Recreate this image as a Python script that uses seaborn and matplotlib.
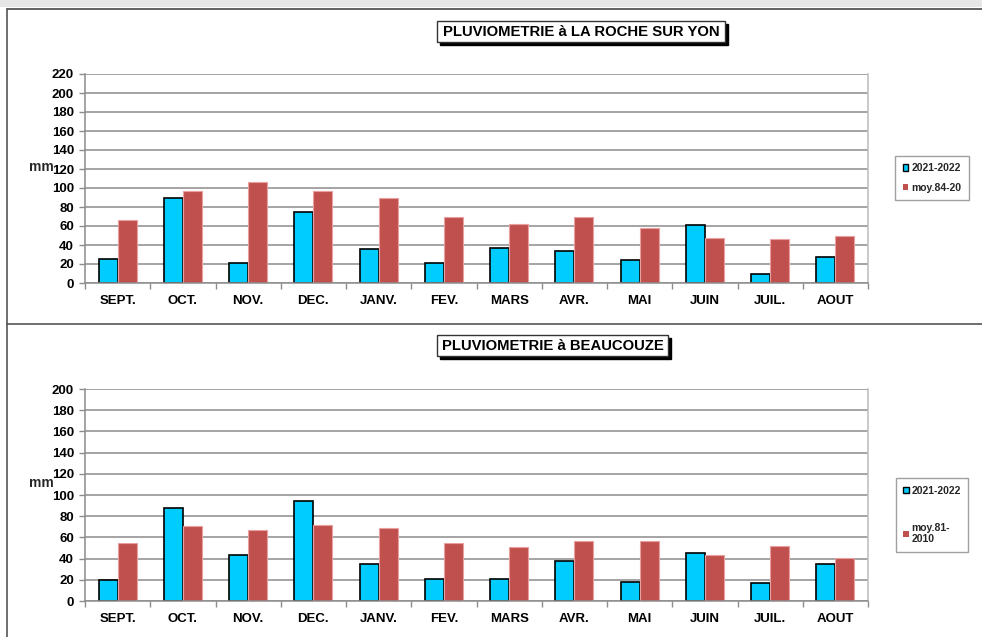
import matplotlib
matplotlib.use("Agg")
import matplotlib.pyplot as plt
import seaborn as sns
import pandas as pd
import numpy as np
from matplotlib.patches import Rectangle
from matplotlib.lines import Line2D

sns.set_theme(style="white")
plt.rcParams['font.family'] = ['Liberation Sans', 'DejaVu Sans']

months = ["SEPT.", "OCT.", "NOV.", "DEC.", "JANV.", "FEV.", "MARS", "AVR.", "MAI", "JUIN", "JUIL.", "AOUT"]

# La Roche sur Yon
roche_2122 = [25, 89, 21, 75, 36, 21, 37, 34, 24, 61, 10, 27]
roche_moy = [66, 97, 106, 97, 90, 69, 62, 69, 58, 47, 46, 49]
roche_labels = ["2021-2022", "moy.84-20"]

# Beaucouze
beau_2122 = [20, 88, 43, 94, 35, 21, 21, 38, 18, 45, 17, 35]
beau_moy = [55, 71, 67, 72, 69, 55, 51, 57, 57, 43, 52, 41]
beau_labels = ["2021-2022", "moy.81-\n2010"]

W, H = 982, 637
fig = plt.figure(figsize=(W / 100, H / 100), dpi=100)


def fx(x):
    return x / W


def fy(y):
    return 1 - y / H


def rect_px(x0, y0, x1, y1):
    return [fx(x0), fy(y1), fx(x1) - fx(x0), fy(y0) - fy(y1)]


# frame
fig.add_artist(Rectangle((0, fy(7)), 1, 1 - fy(7), transform=fig.transFigure,
                         facecolor="#E6E6E6", edgecolor="none"))
fig.add_artist(Line2D([fx(7), 1], [fy(9), fy(9)], transform=fig.transFigure, color="#555555", lw=1.3))
fig.add_artist(Line2D([fx(7), fx(7)], [fy(9), 0], transform=fig.transFigure, color="#555555", lw=1.2))
fig.add_artist(Line2D([fx(7), 1], [fy(324), fy(324)], transform=fig.transFigure, color="#555555", lw=1.2))

BLUE = "#00CCFF"
RED = "#C0504D"


def title_box(x0, y0, x1, y1, text):
    fig.add_artist(Rectangle((fx(x0 + 3), fy(y1 + 3)), fx(x1) - fx(x0), fy(y0) - fy(y1),
                             transform=fig.transFigure, facecolor="black", edgecolor="black", lw=1))
    fig.add_artist(Rectangle((fx(x0), fy(y1)), fx(x1) - fx(x0), fy(y0) - fy(y1),
                             transform=fig.transFigure, facecolor="white", edgecolor="#333333", lw=1))
    fig.text(fx((x0 + x1) / 2), fy((y0 + y1) / 2 + 0.5), text, ha="center", va="center",
             fontsize=10.7, fontweight="bold", color="black")


def panel(box, v1, v2, labels, ymax, legend_box, labelspacing, ylabel_y):
    ax = fig.add_axes(rect_px(*box))
    df = pd.DataFrame({
        "mois": months * 2,
        "mm": list(v1) + list(v2),
        "serie": [labels[0]] * 12 + [labels[1]] * 12,
    })
    sns.barplot(data=df, x="mois", y="mm", hue="serie", order=months,
                hue_order=labels, palette=[BLUE, RED], width=0.58, ax=ax,
                saturation=1, legend=True)
    for cont, ec, lw in zip(ax.containers, ["black", "#E8A0A0"], [1.2, 0.8]):
        for b in cont:
            b.set_edgecolor(ec)
            b.set_linewidth(lw)
    ax.set_xlim(-0.5, 11.5)
    ax.set_ylim(0, ymax)
    ax.set_yticks(np.arange(0, ymax + 1, 20))
    ax.yaxis.grid(True, color="#8C8C8C", lw=1.1)
    ax.set_axisbelow(True)
    ax.set_xlabel("")
    ax.set_ylabel("")
    for s in ["left", "bottom"]:
        ax.spines[s].set_color("#8C8C8C")
        ax.spines[s].set_linewidth(1.1)
    ax.spines["right"].set_color("#BBBBBB")
    ax.spines["right"].set_linewidth(1.1)
    ax.spines["top"].set_visible(False)
    ax.tick_params(axis="y", left=True, length=4, width=1, color="#8C8C8C", pad=4,
                   labelsize=9.5)
    ax.tick_params(axis="x", bottom=False, length=0, pad=9, labelsize=9.5)
    ax.set_xticks(np.arange(-0.5, 12, 1), minor=True)
    ax.tick_params(axis="x", which="minor", bottom=True, length=4, width=1, color="#8C8C8C")
    for t in ax.get_xticklabels() + ax.get_yticklabels():
        t.set_fontweight("bold")
        t.set_color("black")
    fig.text(fx(41), fy(ylabel_y), "mm", ha="center", va="center", fontsize=10,
             fontweight="bold")
    h, l = ax.get_legend_handles_labels()
    ax.get_legend().remove()
    lx0, ly0, lx1, ly1 = legend_box
    leg = fig.legend(h, l, loc="center",
                     bbox_to_anchor=(fx((lx0 + lx1) / 2), fy((ly0 + ly1) / 2)),
                     bbox_transform=fig.transFigure,
                     frameon=True, fancybox=False, fontsize=7.5, handlelength=0.55,
                     handleheight=0.55, handletextpad=0.3, labelspacing=labelspacing,
                     borderaxespad=0, borderpad=0.7)
    leg.get_frame().set_edgecolor("#888888")
    leg.get_frame().set_linewidth(1)
    hs = leg.legend_handles
    hs[0].set_edgecolor("black")
    hs[0].set_linewidth(1)
    hs[1].set_edgecolor("none")
    for t in leg.get_texts():
        t.set_fontweight("bold")
    return ax


panel((85, 74, 868, 283), roche_2122, roche_moy, roche_labels, 220,
      (897, 158, 967, 198), 0.9, 167)
panel((85, 389, 868, 601), beau_2122, beau_moy, beau_labels, 200,
      (897, 475, 967, 555), 2.6, 483)

title_box(437, 21, 725, 42, "PLUVIOMETRIE à LA ROCHE SUR YON")
title_box(437, 335, 668, 356, "PLUVIOMETRIE à BEAUCOUZE")

fig.savefig("out.png", dpi=100)
